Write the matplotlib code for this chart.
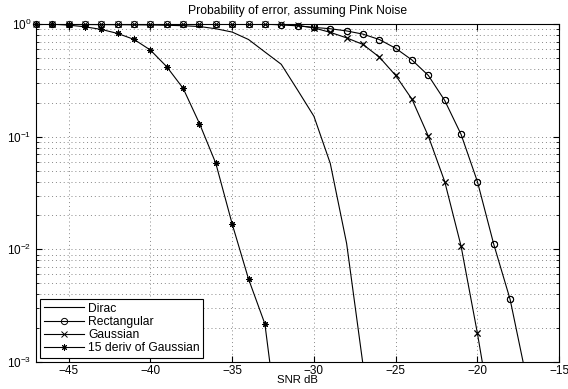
import numpy as np
import matplotlib
matplotlib.use("Agg")
import matplotlib.pyplot as plt
from matplotlib.ticker import LogLocator, MultipleLocator, NullFormatter

plt.rcParams['font.family'] = ['Liberation Sans', 'DejaVu Sans']

# SNR axis in dB, one point per dB starting at -47
snr_start = -47

dirac = [0.995, 0.994, 0.993, 0.992, 0.990, 0.988, 0.986, 0.983, 0.977, 0.968,
         0.952, 0.91, 0.85, 0.73, 0.566, 0.44, 0.26, 0.152, 0.058, 0.0113,
         0.00095, 0.00002]
rectangular = [0.999] * 15 + [0.985, 0.965, 0.935, 0.91, 0.87, 0.815, 0.73, 0.61,
                              0.48, 0.35, 0.21, 0.105, 0.040, 0.0111, 0.0036, 0.00072]
gaussian = [0.999] * 15 + [0.995, 0.975, 0.925, 0.845, 0.755, 0.66, 0.51, 0.35,
                           0.215, 0.101, 0.040, 0.0107, 0.0018, 0.00025]
deriv15 = [0.999, 0.998, 0.98, 0.946, 0.897, 0.826, 0.731, 0.588, 0.418, 0.269,
           0.131, 0.058, 0.0168, 0.00546, 0.00218, 0.00016]

series = [
    ("Dirac", dirac, None, {}),
    ("Rectangular", rectangular, "o", {"markerfacecolor": "none"}),
    ("Gaussian", gaussian, "x", {}),
    ("15 deriv of Gaussian", deriv15, (8, 2, 0), {}),
]

fig = plt.figure(figsize=(5.68, 3.89), dpi=100)
ax = fig.add_axes([0.0634, 0.0694, 0.921, 0.8686])

for label, vals, marker, extra in series:
    x = np.arange(snr_start, snr_start + len(vals))
    y = np.array(vals)
    ax.plot(x, y, color="black", linewidth=0.8, marker=marker, markersize=4.5,
            markeredgewidth=0.7, label=label, **extra)
    if marker is not None:
        # markers on the top edge are drawn unclipped, like MATLAB
        keep = y >= 1e-3
        ax.plot(x[keep], y[keep], linestyle="none", color="black", marker=marker,
                markersize=4.5, markeredgewidth=0.7, clip_on=False, **extra)

ax.set_yscale("log")
ax.set_xlim(-47, -15)
ax.set_ylim(1e-3, 1)
ax.xaxis.set_major_locator(MultipleLocator(5))
ax.yaxis.set_major_locator(LogLocator(base=10, numticks=10))
ax.yaxis.set_minor_locator(LogLocator(base=10, subs=np.arange(2, 10), numticks=10))
ax.yaxis.set_minor_formatter(NullFormatter())

grid_style = dict(linestyle=(0, (1, 3)), color="#888888", linewidth=0.7)
ax.grid(True, which="major", **grid_style)
ax.grid(True, which="minor", axis="y", **grid_style)
ax.tick_params(which="both", direction="in", top=True, right=True, labelsize=8.5)
ax.tick_params(axis="x", pad=2)
ax.tick_params(which="major", length=4)
ax.tick_params(which="minor", length=2)
for sp in ax.spines.values():
    sp.set_linewidth(0.8)

ax.set_title("Probability of error, assuming Pink Noise", fontsize=8.7, pad=7)
ax.set_xlabel("SNR dB", fontsize=8.2, labelpad=-1)

leg = ax.legend(loc="lower left", fontsize=8.7, fancybox=False, framealpha=1,
                edgecolor="black", handlelength=3.3, labelspacing=0.1,
                borderaxespad=0.35, borderpad=0.3, handletextpad=0.35)
leg.get_frame().set_linewidth(0.8)

fig.savefig("out.png", dpi=100)
